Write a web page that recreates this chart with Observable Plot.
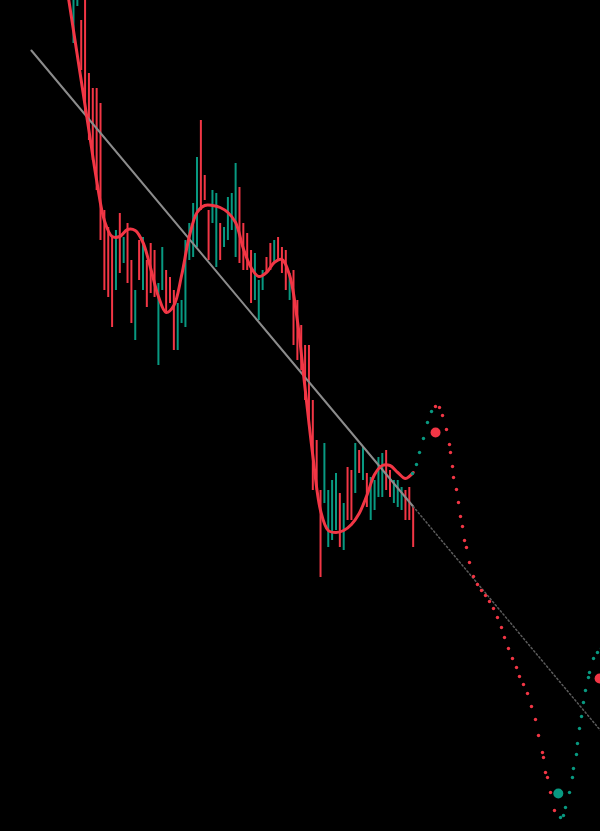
<!DOCTYPE html>
<html>
<head>
<meta charset="utf-8">
<script src="https://cdn.jsdelivr.net/npm/d3@7"></script>
<script src="https://cdn.jsdelivr.net/npm/@observablehq/plot@0.6"></script>
<style>
  html, body { margin: 0; padding: 0; background: #000; overflow: hidden; }
  #chart svg { display: block; }
</style>
</head>
<body>
<div id="chart"></div>
<script>
// Candle ranges (price units), one per bar index 0..88
const barHigh = [86,86,81.1,86,75.8,74.3,74.3,72.8,62.1,60.4,59.4,60.1,61.8,59.4,60.8,57.1,54.1,59.1,59.4,57.1,
  58.8,58.1,54.8,58.4,56.1,55.4,54.1,52.8,53.1,59.1,60.8,62.8,67.4,71.1,65.6,62.1,64.1,63.8,60.8,60.4,
  63.4,63.8,66.8,64.4,60.8,59.8,58.1,57.8,55.1,56.1,57.4,58.8,59.1,59.4,58.4,58.1,55.8,56.1,53.1,50.6,
  48.6,48.6,43.1,39.1,34.1,38.8,34.1,35.1,35.8,33.8,32.8,36.4,36.1,38.8,38.1,38.4,35.8,35.4,35.1,37.4,
  37.8,38.1,36.1,35.1,35.1,34.4,34.1,34.4,32.4];
const barLow = [78.8,82.5,76.1,71.6,69.1,67.1,64.1,59.1,54.1,53.4,50.4,54.1,55.8,56.8,54.8,50.8,49.1,55.1,54.1,52.4,
  53.8,53.4,46.6,54.1,51.8,52.8,48.1,48.1,50.8,50.4,57.1,57.4,58.4,62.1,63.1,57.1,60.8,56.4,57.1,58.4,
  59.1,60.1,57.4,56.8,56.1,56.1,52.8,53.1,51.1,54.1,55.8,56.1,56.8,57.1,55.8,54.1,53.1,48.6,47.1,46.1,
  43.1,40.6,34.1,34.1,25.4,32.8,28.4,29.1,30.1,28.4,28.1,31.1,31.1,33.8,35.8,35.1,32.4,31.1,32.1,33.4,
  33.4,34.1,33.4,32.8,32.4,32.1,31.1,31.1,28.4];
const barUp = [1,1,0,0,0,0,0,0,0,0,0,1,0,1,0,0,1,0,1,0,
  0,0,1,1,0,0,0,1,1,1,1,1,1,0,0,0,1,1,0,1,
  1,1,1,0,0,0,0,1,1,1,0,0,1,0,0,0,1,0,0,0,
  0,0,0,0,0,1,1,1,1,0,1,0,0,1,0,1,0,1,1,1,
  1,0,0,1,1,1,0,0,0];

// Smoothed curve
const curveIdx = [-2,0,2,4,6,8,10,12,14,16,18,20,22,24,26,28,30,32,34,36,38,40,42,44,46,48,50,52,54,56,58,60,62,64,66,68,70,72,74,76,78,80,82,84,86,88];
const curveVal = [85.1,80.1,75.1,70.1,65.1,61.1,59.5,59.5,60.2,60.1,58.9,56.3,53.5,51.9,52.6,55.6,59.5,61.9,62.6,62.6,
  62.4,61.9,60.9,58.3,56.4,55.5,55.9,56.9,57.2,55.6,51.1,44.3,37.6,32.1,30.1,29.9,30.1,30.7,31.8,33.6,
  35.7,36.6,36.6,35.9,35.3,35.9];

// Trend line
const trendSolidIdx = [-10.9, 88];
const trendSolidVal = [78.1, 32.5];
const trendDotIdx = [88, 140];
const trendDotVal = [32.5, 8.5];

// Forecast projection dots
const fcIdx = [87.82,88.86,89.64,90.67,91.71,92.75,
  93.78,94.82,95.60,96.63,97.41,97.67,98.19,98.45,99.22,99.74,100.26,100.78,101.30,101.81,
  102.59,103.63,104.66,105.70,106.74,107.77,108.81,109.84,110.88,111.66,112.69,113.73,114.77,115.54,
  116.58,117.62,118.65,119.69,120.47,121.50,121.76,122.28,122.80,123.58,124.61,
  126.17,126.94,127.46,128.50,129.27,129.53,130.31,130.57,131.09,131.61,132.12,132.64,133.42,133.68,
  134.72,135.75,136.79];
const fcVal = [35.8,36.7,37.9,39.3,40.9,42.0,
  42.5,42.4,41.6,40.2,38.7,37.9,36.5,35.4,34.2,32.9,31.5,30.5,29.1,28.4,
  26.9,25.5,24.7,24.1,23.6,23.0,22.3,21.4,20.4,19.4,18.3,17.3,16.4,15.5,
  14.7,13.8,12.5,11.2,9.6,7.9,7.4,5.9,5.4,3.9,2.1,
  1.4,1.6,2.4,3.9,5.4,6.3,7.7,8.8,10.3,11.5,12.9,14.1,15.4,15.9,
  17.3,17.9,18.3];
const fcUp = [1,1,1,1,1,1,
  0,0,0,0,0,0,0,0,0,0,0,0,0,0,
  0,0,0,0,0,0,0,0,0,0,0,0,0,0,
  0,0,0,0,0,0,0,0,0,0,0,
  1,1,1,1,1,1,1,1,1,1,1,1,1,1,
  1,1,1];

// Pivot markers
const markIdx = [93.8, 125.6, 136.3];
const markVal = [39.9, 3.8, 15.3];
const markUp = [0, 1, 0];

const RED = "#f23645";
const TEAL = "#089981";

const bars = barHigh.map((h, i) => ({i, high: h, low: barLow[i], up: barUp[i]}));
const curve = curveIdx.map((i, k) => ({i, v: curveVal[k]}));
const trendSolid = trendSolidIdx.map((i, k) => ({i, v: trendSolidVal[k]}));
const trendDot = trendDotIdx.map((i, k) => ({i, v: trendDotVal[k]}));
const forecast = fcIdx.map((i, k) => ({i, v: fcVal[k], up: fcUp[k]}));
const marks = markIdx.map((i, k) => ({i, v: markVal[k], up: markUp[k]}));

const chart = Plot.plot({
  width: 600,
  height: 831,
  margin: 0,
  style: {background: "#000"},
  x: {domain: [-18.91, 136.53], axis: null},
  y: {domain: [0, 83.1], axis: null},
  marks: [
    Plot.ruleX(bars, {x: "i", y1: "low", y2: "high", stroke: d => d.up ? TEAL : RED, strokeWidth: 2}),
    Plot.line(trendSolid, {x: "i", y: "v", stroke: "#8c8c8c", strokeWidth: 2}),
    Plot.line(trendDot, {x: "i", y: "v", stroke: "#5c5c5c", strokeWidth: 1.5, strokeDasharray: "1.5,2.5"}),
    Plot.line(curve, {x: "i", y: "v", curve: "catmull-rom", stroke: RED, strokeWidth: 3}),
    Plot.dot(forecast, {x: "i", y: "v", r: 1.7, fill: d => d.up ? TEAL : RED, stroke: null}),
    Plot.dot(marks, {x: "i", y: "v", r: 5, fill: d => d.up ? TEAL : RED, stroke: null})
  ]
});
document.getElementById("chart").appendChild(chart);
</script>
</body>
</html>
